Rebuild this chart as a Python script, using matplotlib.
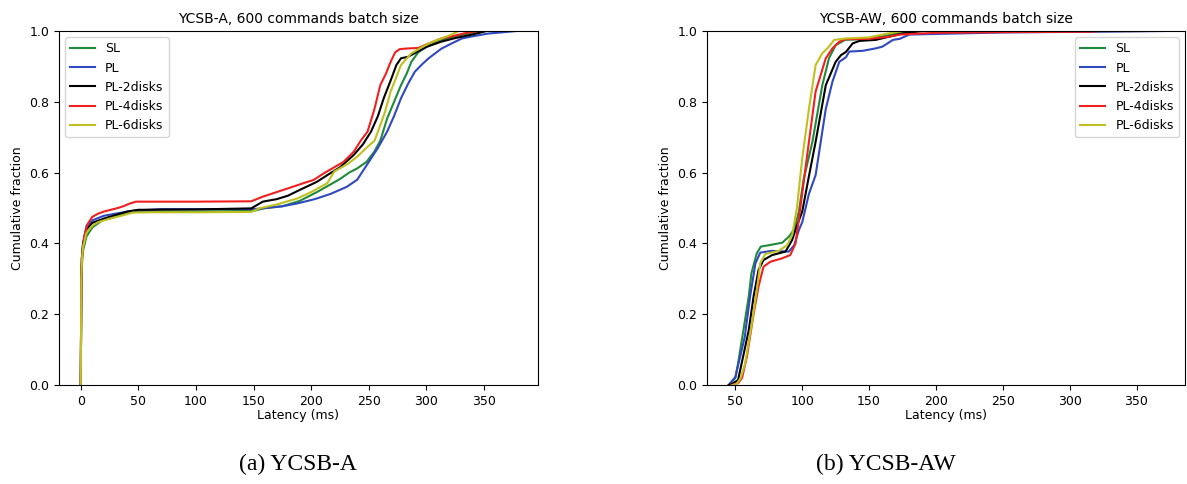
import matplotlib
matplotlib.use("Agg")
import matplotlib.pyplot as plt

# ---- YCSB-A: latency (ms) vs cumulative fraction ----
a_sl_x = [0, 0.5, 1, 2, 5, 10, 19, 25, 33, 40, 50, 100, 150, 160, 175, 190, 205, 217, 225, 233, 240, 248, 255, 260, 266, 272, 278, 283, 287, 293, 300, 313, 325, 340, 352]
a_sl_y = [0, 0.29, 0.34, 0.38, 0.42, 0.445, 0.466, 0.47, 0.478, 0.487, 0.49, 0.49, 0.492, 0.50, 0.505, 0.52, 0.545, 0.567, 0.582, 0.60, 0.612, 0.63, 0.66, 0.69, 0.753, 0.80, 0.847, 0.88, 0.913, 0.94, 0.955, 0.975, 0.985, 0.995, 1.0]

a_pl_x = [0, 0.5, 1, 2, 5, 10, 20, 30, 45, 70, 150, 158, 175, 188, 203, 217, 231, 240, 252, 258, 266, 272, 278, 284, 290, 296, 302, 313, 322, 331, 340, 354, 365, 378]
a_pl_y = [0, 0.30, 0.36, 0.40, 0.45, 0.465, 0.478, 0.484, 0.492, 0.497, 0.497, 0.499, 0.505, 0.513, 0.525, 0.54, 0.56, 0.58, 0.64, 0.67, 0.716, 0.76, 0.81, 0.85, 0.885, 0.905, 0.923, 0.95, 0.965, 0.979, 0.985, 0.993, 0.996, 1.0]

a_pl2_x = [0, 0.5, 1, 2, 5, 10, 20, 30, 40, 50, 100, 148, 158, 170, 180, 190, 205, 215, 225, 237, 245, 252, 258, 263, 269, 274, 278, 284, 293, 300, 313, 325, 340, 352]
a_pl2_y = [0, 0.30, 0.36, 0.40, 0.44, 0.458, 0.47, 0.48, 0.49, 0.495, 0.496, 0.499, 0.518, 0.525, 0.535, 0.551, 0.574, 0.595, 0.615, 0.65, 0.68, 0.716, 0.76, 0.81, 0.86, 0.904, 0.923, 0.927, 0.943, 0.955, 0.97, 0.98, 0.99, 1.0]

a_pl4_x = [0, 0.5, 1, 3, 6, 10, 15, 20, 31, 37, 42, 48, 60, 100, 148, 158, 170, 184, 195, 202, 212, 220, 228, 237, 243, 249, 255, 260, 265, 269, 273, 277, 285, 293, 302, 313, 322, 335, 345]
a_pl4_y = [0, 0.30, 0.36, 0.42, 0.455, 0.475, 0.484, 0.49, 0.499, 0.505, 0.512, 0.518, 0.518, 0.518, 0.519, 0.532, 0.545, 0.56, 0.572, 0.579, 0.60, 0.615, 0.63, 0.659, 0.69, 0.716, 0.78, 0.847, 0.88, 0.913, 0.94, 0.949, 0.951, 0.952, 0.965, 0.979, 0.985, 0.995, 1.0]

a_pl6_x = [0, 0.5, 1, 2, 5, 10, 15, 25, 35, 45, 60, 100, 148, 155, 170, 188, 200, 214, 220, 232, 240, 249, 255, 258, 264, 269, 274, 278, 287, 295, 302, 313, 322, 328]
a_pl6_y = [0, 0.30, 0.35, 0.39, 0.43, 0.45, 0.46, 0.47, 0.478, 0.487, 0.488, 0.488, 0.489, 0.499, 0.51, 0.527, 0.545, 0.57, 0.603, 0.625, 0.645, 0.673, 0.69, 0.716, 0.77, 0.829, 0.87, 0.904, 0.937, 0.952, 0.965, 0.979, 0.99, 1.0]

# ---- YCSB-AW ----
b_sl_x = [45, 50, 52, 56, 60, 62, 66, 69, 75, 85, 90, 94, 97.5, 101, 107.6, 115, 120, 125, 132, 145, 160, 170, 180]
b_sl_y = [0, 0.02, 0.061, 0.155, 0.25, 0.316, 0.372, 0.391, 0.395, 0.402, 0.419, 0.44, 0.49, 0.58, 0.687, 0.847, 0.923, 0.96, 0.975, 0.977, 0.985, 0.993, 1.0]

b_pl_x = [45, 50, 57, 61, 65, 68.6, 77, 90, 94, 97.5, 100, 105, 110, 117.6, 122.6, 127.7, 132.7, 135.2, 145, 155, 160, 167.9, 173, 180, 250, 320, 370]
b_pl_y = [0, 0.023, 0.136, 0.25, 0.344, 0.374, 0.379, 0.377, 0.395, 0.438, 0.46, 0.54, 0.593, 0.78, 0.857, 0.913, 0.926, 0.942, 0.944, 0.951, 0.956, 0.975, 0.978, 0.99, 0.996, 0.998, 1.0]

b_pl2_x = [45, 47, 52, 60, 63.6, 67.3, 71, 77.4, 87.5, 92.5, 96, 100, 105, 110, 117.6, 125, 129, 132.7, 137.7, 142.7, 155, 165, 175, 190]
b_pl2_y = [0, 0.002, 0.014, 0.155, 0.25, 0.325, 0.353, 0.367, 0.377, 0.41, 0.45, 0.49, 0.59, 0.687, 0.847, 0.913, 0.932, 0.941, 0.965, 0.972, 0.975, 0.984, 0.993, 1.0]

b_pl4_x = [47, 52, 55, 58.6, 63.6, 67.3, 71, 76, 85, 91, 95, 97.5, 105, 110, 117.6, 122.6, 127.7, 132.7, 150, 165, 173, 200, 260, 318, 320, 355]
b_pl4_y = [0, 0.005, 0.02, 0.08, 0.2, 0.278, 0.334, 0.348, 0.358, 0.367, 0.40, 0.47, 0.687, 0.829, 0.923, 0.951, 0.97, 0.977, 0.978, 0.984, 0.99, 0.995, 0.997, 0.998, 1.0, 1.0]

b_pl6_x = [48, 51, 54, 57.3, 62.3, 66, 68.6, 72.4, 82.4, 88.7, 92.5, 96, 100, 105, 110, 115, 120, 123.9, 132.7, 150, 160, 175]
b_pl6_y = [0, 0.003, 0.02, 0.061, 0.174, 0.268, 0.344, 0.37, 0.379, 0.395, 0.424, 0.5, 0.64, 0.78, 0.904, 0.937, 0.956, 0.975, 0.979, 0.982, 0.99, 1.0]

labels = ["SL", "PL", "PL-2disks", "PL-4disks", "PL-6disks"]
colors = ["#1f8a3a", "#3048c0", "#000000", "#f02020", "#c0c020"]

a_series = [(a_sl_x, a_sl_y), (a_pl_x, a_pl_y), (a_pl2_x, a_pl2_y), (a_pl4_x, a_pl4_y), (a_pl6_x, a_pl6_y)]
b_series = [(b_sl_x, b_sl_y), (b_pl_x, b_pl_y), (b_pl2_x, b_pl2_y), (b_pl4_x, b_pl4_y), (b_pl6_x, b_pl6_y)]

fig = plt.figure(figsize=(11.87, 4.84), dpi=100)
ax1 = fig.add_axes([0.0497, 0.2045, 0.4035, 0.7314])
ax2 = fig.add_axes([0.5956, 0.2045, 0.4027, 0.7314])

for ax, series, title, loc in [(ax1, a_series, "YCSB-A, 600 commands batch size", "upper left"),
                               (ax2, b_series, "YCSB-AW, 600 commands batch size", "upper right")]:
    for (x, y), lab, c in zip(series, labels, colors):
        ax.plot(x, y, color=c, label=lab, linewidth=1.5)
    ax.set_ylim(0, 1.0)
    ax.set_title(title, fontsize=10)
    ax.set_xlabel("Latency (ms)", fontsize=9, labelpad=1)
    ax.set_ylabel("Cumulative fraction", fontsize=9)
    ax.tick_params(labelsize=9)
    ax.legend(loc=loc, fontsize=9)

# subfigure captions
fig.text(0.251, 0.04, "(a) YCSB-A", ha="center", va="center",
         fontsize=17, family="Liberation Serif")
fig.text(0.746, 0.04, "(b) YCSB-AW", ha="center", va="center",
         fontsize=17, family="Liberation Serif")

plt.savefig("out.png", dpi=100)
